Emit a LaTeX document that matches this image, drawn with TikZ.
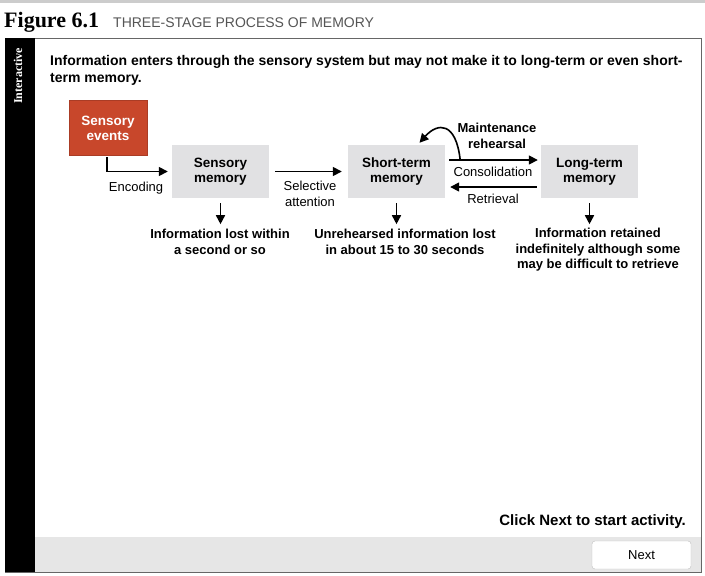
\documentclass[tikz,border=0pt]{standalone}
\usepackage{fontspec}
\setmainfont{Liberation Sans}
\newfontfamily\figserif{Liberation Serif}
\usetikzlibrary{arrows.meta}
\definecolor{sensred}{HTML}{C8472B}
\definecolor{boxgray}{HTML}{E1E1E3}
\definecolor{bargray}{HTML}{E6E6E6}
\definecolor{titlegray}{HTML}{555555}
\tikzset{
  memnode/.style={fill=boxgray, minimum width=97pt, minimum height=53pt, align=center, font=\fontsize{13.5}{15}\selectfont\bfseries},
  lbl/.style={align=center, font=\fontsize{13}{15.5}\selectfont},
  blbl/.style={align=center, font=\fontsize{13}{15.5}\selectfont\bfseries},
  arr/.style={-{Triangle[length=9pt,width=9pt]}, line width=1.6pt},
}
\begin{document}
\begin{tikzpicture}[x=1pt,y=-1pt]
\useasboundingbox (0,0) rectangle (705,576);
\fill[white] (0,0) rectangle (705,576);
% top line
\fill[black!20] (0,0) rectangle (705,3);
% title
\node[anchor=base west, inner sep=0, font=\figserif\fontsize{22}{24}\selectfont\bfseries] (fig) at (4,27) {Figure 6.1};
\node[anchor=base west, inner sep=0, text=titlegray, font=\fontsize{14}{16}\selectfont] (ttl) at (113,27) {THREE-STAGE PROCESS OF MEMORY};
% frame
\fill[bargray] (35,537) rectangle (701,572);
\draw[black!60, line width=0.8pt] (5,38) rectangle (701,572);
\fill[black] (5,38) rectangle (35,572);
\node[rotate=90, text=white, font=\figserif\fontsize{12}{13}\selectfont\bfseries, inner sep=0] (inter) at (18,76) {Interactive};
% intro
\node[anchor=base west, inner sep=0, font=\fontsize{14}{17}\selectfont\bfseries] (intro) at (50,65) {Information enters through the sensory system but may not make it to long-term or even short-};
\node[anchor=base west, inner sep=0, font=\fontsize{14}{17}\selectfont\bfseries] (intro2) at (50,82) {term memory.};
% boxes
\node[fill=sensred, draw=sensred!85!black, minimum width=78pt, minimum height=55pt, text=white, align=center, font=\fontsize{13.5}{15}\selectfont\bfseries] (sev) at (108,128) {Sensory\\events};
\node[memnode] (sm) at (220.5,171.5) {Sensory\\memory};
\node[memnode] (stm) at (396.5,171.5) {Short-term\\memory};
\node[memnode] (ltm) at (589.5,171.5) {Long-term\\memory};
% arrows
\coordinate (encA) at (107,157);
\draw[arr] (encA) |- ([xshift=-4pt]sm.west);
\node[lbl] (enc) at (136,188) {Encoding};
\draw[arr] ([xshift=6pt]sm.east) -- ([xshift=-6pt]stm.west);
\node[lbl] (sel) at (310,194) {Selective\\attention};
\coordinate (cs) at ([xshift=4pt,yshift=11.5pt]stm.east);
\coordinate (ce) at ([xshift=-3pt,yshift=11.5pt]ltm.west);
\draw[arr] (cs) -- (ce);
\node[lbl] (cons) at (493,172) {Consolidation};
\coordinate (mr) at ([xshift=11pt]cs);
\coordinate (mrEnd) at ([xshift=23pt,yshift=2pt]stm.north);
\draw[arr] (mr) .. controls (456,122) and (438,122) .. (mrEnd);
\node[blbl] (maint) at (497,136) {Maintenance\\rehearsal};
\coordinate (rs) at ([xshift=-4pt,yshift=-15.5pt]ltm.west);
\coordinate (re) at ([xshift=5pt,yshift=-15.5pt]stm.east);
\draw[arr] (rs) -- (re);
\node[lbl] (ret) at (493,199) {Retrieval};
% down arrows
\node[blbl] (l1) at (220,242) {Information lost within\\a second or so};
\node[blbl] (l2) at (405,242) {Unrehearsed information lost\\in about 15 to 30 seconds};
\node[blbl] (l3) at (598,250) {Information retained\\indefinitely although some\\may be difficult to retrieve};
\draw[arr] ([yshift=-5pt]sm.south) -- ([yshift=-26pt]sm.south);
\draw[arr] ([yshift=-5pt]stm.south) -- ([yshift=-26pt]stm.south);
\draw[arr] ([yshift=-5pt]ltm.south) -- ([yshift=-26pt]ltm.south);
% footer
\node[anchor=base east, inner sep=0, font=\fontsize{15}{17}\selectfont\bfseries] (click) at (686,525) {Click Next to start activity.};
\node[draw=black!25, fill=white, rounded corners=3pt, minimum width=99pt, minimum height=28pt, font=\fontsize{13}{15}\selectfont] (next) at (641.5,555) {Next};
\end{tikzpicture}
\end{document}
